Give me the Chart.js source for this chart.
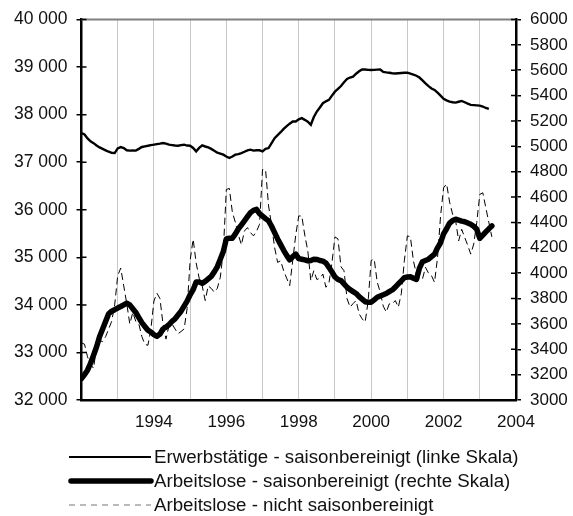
<!DOCTYPE html>
<html>
<head>
<meta charset="utf-8">
<script src="https://cdn.jsdelivr.net/npm/chart.js@4.4.1/dist/chart.umd.min.js"></script>
<style>
  html, body { margin: 0; padding: 0; background: #fff; }
  #wrap { width: 573px; height: 516px; }
</style>
</head>
<body>
<div id="wrap"><canvas id="c" width="573" height="516"></canvas></div>
<script>
// Monthly data starting January 1992
const startYear = 1992;
const seriesLabels = [
  "Erwerbstätige - saisonbereinigt (linke Skala)",
  "Arbeitslose - saisonbereinigt (rechte Skala)",
  "Arbeitslose - nicht saisonbereinigt"
];
const xTickYears = [1994, 1996, 1998, 2000, 2002, 2004];

// Erwerbstätige, saisonbereinigt (Tsd., linke Skala)
const erwerbstaetigeSA = [
  37611, 37584, 37500, 37440, 37400, 37350, 37310, 37280, 37250, 37220, 37195, 37192,
  37290, 37318, 37297, 37250, 37243, 37245, 37243, 37280, 37320, 37333, 37345, 37360,
  37368, 37380, 37390, 37402, 37390, 37368, 37360, 37350, 37347, 37360, 37368, 37350,
  37347, 37300, 37228, 37300, 37354, 37330, 37312, 37280, 37240, 37200, 37180, 37159,
  37120, 37088, 37120, 37159, 37170, 37192, 37220, 37250, 37264, 37243, 37250, 37250,
  37228, 37280, 37297, 37400, 37506, 37570, 37630, 37700, 37760, 37810, 37856, 37856,
  37900, 37925, 37890, 37850, 37786, 37950, 38065, 38150, 38239, 38280, 38310, 38400,
  38483, 38540, 38602, 38680, 38749, 38780, 38800, 38860, 38910, 38950, 38950, 38940,
  38937, 38940, 38945, 38950, 38900, 38887, 38880, 38870, 38866, 38870, 38875, 38880,
  38881, 38860, 38840, 38818, 38780, 38720, 38657, 38600, 38550, 38519, 38460, 38400,
  38331, 38300, 38274, 38260, 38253, 38270, 38288, 38260, 38230, 38205, 38200, 38195,
  38190, 38170, 38140, 38121
];

// Arbeitslose, saisonbereinigt (Tsd., rechte Skala)
const arbeitsloseSA = [
  3170, 3200, 3235, 3290, 3353, 3420, 3500, 3560, 3620, 3680, 3700, 3712,
  3725, 3737, 3750, 3763, 3750, 3720, 3690, 3650, 3610, 3580, 3550, 3536,
  3515, 3502, 3520, 3560, 3575, 3595, 3620, 3640, 3670, 3700, 3740, 3780,
  3830, 3870, 3930, 3930, 3920, 3935, 3955, 3975, 4010, 4050, 4110, 4170,
  4270, 4276, 4276, 4310, 4350, 4380, 4412, 4445, 4477, 4495, 4503, 4470,
  4450, 4430, 4412, 4370, 4320, 4270, 4225, 4180, 4140, 4105, 4130, 4150,
  4115, 4110, 4105, 4098, 4100, 4110, 4108, 4100, 4095, 4080, 4046, 4010,
  3970, 3950, 3941, 3915, 3889, 3870, 3855, 3840, 3815, 3795, 3775, 3771,
  3771, 3790, 3810, 3820, 3830, 3840, 3855, 3868, 3890, 3915, 3940, 3965,
  3970, 3972, 3960, 3950, 4040, 4090, 4100, 4110, 4130, 4150, 4200, 4240,
  4310, 4350, 4395, 4415, 4425, 4418, 4410, 4405, 4395, 4385, 4370, 4346,
  4275, 4300, 4325, 4350, 4372
];

// Arbeitslose, nicht saisonbereinigt (Tsd., rechte Skala)
const arbeitsloseNSA = [
  3450, 3440, 3340, 3280, 3250, 3420, 3470, 3460, 3500, 3560, 3620, 3750,
  3980, 4040, 3900, 3760, 3600, 3690, 3620, 3600, 3500, 3440, 3431, 3560,
  3780, 3842, 3800, 3600, 3480, 3588, 3600, 3560, 3523, 3540, 3560, 3720,
  4100, 4268, 4080, 3960, 3900, 3784, 3900, 3880, 3850, 3880, 3967, 4176,
  4660, 4668, 4480, 4400, 4300, 4223, 4333, 4359, 4320, 4294, 4330, 4385,
  4817, 4817, 4530, 4380, 4202, 4085, 4098, 4019, 3960, 3902, 4098, 4300,
  4451, 4451, 4300, 4176, 3941, 4019, 3950, 3960, 3993, 3889, 3920, 4080,
  4286, 4270, 4050, 4019, 3800, 3732, 3760, 3784, 3680, 3640, 3614, 3780,
  4100, 4111, 3930, 3850, 3740, 3693, 3758, 3758, 3784, 3732, 3840, 4100,
  4294, 4286, 4098, 3990, 3954, 3954, 4046, 4000, 3980, 3928, 4124, 4450,
  4673, 4704, 4560, 4464, 4412, 4255, 4346, 4281, 4220, 4150, 4230, 4400,
  4621, 4634, 4516, 4400, 4286
];

const toPoints = arr => arr.map((v, i) => ({ x: startYear + i / 12, y: v }));

const FONT = "'Liberation Sans', Arial, Helvetica, sans-serif";
const fmtThousands = v => String(v).replace(/\B(?=(\d{3})+(?!\d))/g, ' ');

const legendStyles = [
  { width: 2.2, dash: [], color: '#000' },
  { width: 5.5, dash: [], color: '#000' },
  { width: 1.2, dash: [6, 5], color: '#777' }
];

const decorPlugin = {
  id: 'decor',
  afterDraw(chart) {
    const ctx = chart.ctx;
    const a = chart.chartArea;
    const yL = chart.scales.y, yR = chart.scales.y2;
    ctx.save();
    // top border
    ctx.strokeStyle = '#808080';
    ctx.lineWidth = 2;
    ctx.beginPath();
    ctx.moveTo(a.left, a.top);
    ctx.lineTo(a.right, a.top);
    ctx.stroke();
    // inner tick marks
    ctx.strokeStyle = '#000';
    ctx.lineWidth = 1.5;
    ctx.beginPath();
    yL.ticks.forEach(t => {
      const p = yL.getPixelForValue(t.value);
      ctx.moveTo(a.left, p); ctx.lineTo(a.left + 5, p);
    });
    yR.ticks.forEach(t => {
      const p = yR.getPixelForValue(t.value);
      ctx.moveTo(a.right - 5, p); ctx.lineTo(a.right, p);
    });
    ctx.stroke();
    // legend
    ctx.font = '18.7px ' + FONT;
    ctx.fillStyle = '#111';
    ctx.textBaseline = 'middle';
    const rowsY = [457, 481, 505];
    chart.data.datasets.forEach((ds, i) => {
      const st = legendStyles[i];
      const y = rowsY[i];
      ctx.strokeStyle = st.color;
      ctx.lineWidth = st.width;
      ctx.lineCap = i === 1 ? 'round' : 'butt';
      ctx.setLineDash(st.dash);
      ctx.beginPath();
      ctx.moveTo(i === 1 ? 71 : 69, y);
      ctx.lineTo(151, y);
      ctx.stroke();
      ctx.setLineDash([]);
      ctx.fillText(ds.label, 154, y + 1);
    });
    ctx.restore();
  }
};

new Chart(document.getElementById('c'), {
  type: 'line',
  data: {
    datasets: [
      {
        label: seriesLabels[0],
        data: toPoints(erwerbstaetigeSA),
        yAxisID: 'y',
        borderColor: '#000',
        borderWidth: 2.4,
        pointRadius: 0,
        tension: 0
      },
      {
        label: seriesLabels[1],
        data: toPoints(arbeitsloseSA),
        yAxisID: 'y2',
        borderColor: '#000',
        borderWidth: 5.5,
        borderJoinStyle: 'round',
        borderCapStyle: 'round',
        pointRadius: 0,
        tension: 0
      },
      {
        label: seriesLabels[2],
        data: toPoints(arbeitsloseNSA),
        yAxisID: 'y2',
        borderColor: '#000',
        borderWidth: 1,
        borderDash: [7, 4],
        pointRadius: 0,
        tension: 0
      }
    ]
  },
  options: {
    responsive: false,
    animation: false,
    devicePixelRatio: 1,
    layout: { padding: { top: 17, left: 0, right: 0, bottom: 0 } },
    plugins: { legend: { display: false }, tooltip: { enabled: false } },
    scales: {
      x: {
        type: 'linear',
        min: 1992,
        max: 2004,
        afterFit: s => { s.height = 116; },
        afterBuildTicks: s => {
          const t = [];
          for (let y = 1992; y <= 2004; y++) t.push({ value: y });
          s.ticks = t;
        },
        ticks: {
          autoSkip: false,
          maxRotation: 0,
          padding: 12,
          color: '#111',
          font: { family: FONT, size: 17 },
          callback: v => xTickYears.includes(v) ? String(v) : ''
        },
        grid: { color: '#c8c8c8', lineWidth: 1, drawTicks: false },
        border: { color: '#000', width: 2.5 }
      },
      y: {
        position: 'left',
        min: 32000,
        max: 40000,
        afterFit: s => { s.width = 81.5; },
        ticks: {
          stepSize: 1000,
          padding: 9,
          color: '#111',
          font: { family: FONT, size: 17.5 },
          callback: v => fmtThousands(v)
        },
        grid: { drawOnChartArea: false, color: '#000', lineWidth: 1.5, tickLength: 5 },
        border: { color: '#000', width: 2.5 }
      },
      y2: {
        position: 'right',
        min: 3000,
        max: 6000,
        afterFit: s => { s.width = 57; },
        ticks: {
          stepSize: 200,
          padding: 9,
          color: '#111',
          font: { family: FONT, size: 17 },
          callback: v => String(v)
        },
        grid: { drawOnChartArea: false, color: '#000', lineWidth: 1.5, tickLength: 5 },
        border: { color: '#000', width: 2.5 }
      }
    }
  },
  plugins: [decorPlugin]
});
</script>
</body>
</html>
